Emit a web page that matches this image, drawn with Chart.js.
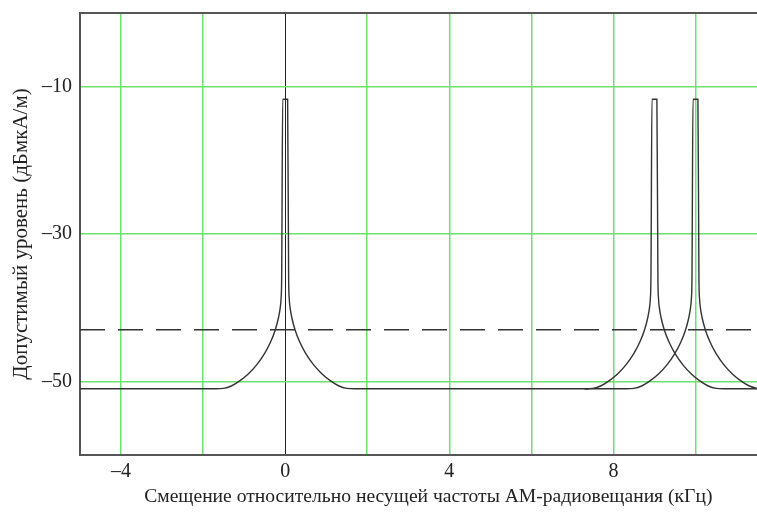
<!DOCTYPE html>
<html>
<head>
<meta charset="utf-8">
<script src="https://cdn.jsdelivr.net/npm/chart.js@4.4.0/dist/chart.umd.min.js"></script>
<style>
  html, body { margin: 0; padding: 0; background: #fff; }
  canvas { display: block; }
</style>
</head>
<body>
<canvas id="mask" width="757" height="518"></canvas>
<script>
// carrier positions (kHz) and the span each mask curve covers
var carriers = [0, 9, 10];
var spanFrom = [-5, 7.3, 7.3];
var spanTo = [7.4, 11.5, 11.5];

// one mask profile: offset from carrier (kHz) -> level (dBuA/m)
var maskOffsets = [-1.7, -1.5, -1.3, -1.1, -0.9, -0.7, -0.5, -0.35, -0.24, -0.16, -0.12, -0.1, -0.085, -0.06,
                   0.06, 0.085, 0.1, 0.12, 0.16, 0.24, 0.35, 0.5, 0.7, 0.9, 1.1, 1.3, 1.5, 1.7];
var maskLevels = [-51, -50.95, -50.6, -49.9, -49.0, -47.8, -46.2, -44.6, -43.0, -41.3, -40.0, -38.8, -36, -11.7,
                  -11.7, -36, -38.8, -40.0, -41.3, -43.0, -44.6, -46.2, -47.8, -49.0, -49.9, -50.6, -50.95, -51];
var baseLevel = -51;

// dashed limit
var limitX = [-5, 11.5];
var limitY = [-43, -43];

// ticks
var xGridTicks = [-4, -2, 0, 2, 4, 6, 8, 10];
var xLabelTicks = [-4, 0, 4, 8];
var yTicks = [-10, -30, -50];

var green = '#6ee06e';
var lineCol = '#333333';
var serif = "'Liberation Serif', 'DejaVu Serif', serif";

function fmt(v) {
  return v < 0 ? '\u2013' + Math.abs(v) : String(v);
}

var datasets = [];
for (var i = 0; i < carriers.length; i++) {
  var pts = [{x: spanFrom[i], y: baseLevel}];
  for (var j = 0; j < maskOffsets.length; j++) {
    pts.push({x: carriers[i] + maskOffsets[j], y: maskLevels[j]});
  }
  pts.push({x: spanTo[i], y: baseLevel});
  datasets.push({
    data: pts,
    borderColor: lineCol,
    borderWidth: 1.4,
    pointRadius: 0,
    fill: false,
    cubicInterpolationMode: 'monotone'
  });
}

datasets.push({
  data: limitX.map(function (x, k) { return {x: x, y: limitY[k]}; }),
  borderColor: lineCol,
  borderWidth: 1.4,
  borderDash: [25, 13],
  pointRadius: 0,
  fill: false
});

// top frame line
var topFrame = {
  id: 'topFrame',
  afterDraw: function (chart) {
    var a = chart.chartArea, ctx = chart.ctx;
    ctx.save();
    ctx.strokeStyle = '#555';
    ctx.lineWidth = 2;
    ctx.beginPath();
    ctx.moveTo(a.left, a.top);
    ctx.lineTo(a.right, a.top);
    ctx.stroke();
    ctx.restore();
  }
};

new Chart(document.getElementById('mask'), {
  type: 'line',
  data: { datasets: datasets },
  plugins: [topFrame],
  options: {
    responsive: false,
    animation: false,
    devicePixelRatio: 1,
    layout: { padding: { top: 13, right: 0, left: 0, bottom: 0 } },
    plugins: { legend: { display: false }, tooltip: { enabled: false } },
    scales: {
      x: {
        type: 'linear',
        min: -5,
        max: 11.5,
        afterBuildTicks: function (scale) {
          scale.ticks = xGridTicks.map(function (v) { return {value: v}; });
        },
        afterFit: function (scale) {
          scale.height = 63;
          scale.paddingLeft = 0;
          scale.paddingRight = 0;
        },
        grid: {
          drawTicks: false,
          color: function (c) { return c.tick && c.tick.value === 0 ? '#222' : green; },
          lineWidth: function (c) { return c.tick && c.tick.value === 0 ? 1 : 1.5; }
        },
        border: { color: '#555', width: 2 },
        ticks: {
          padding: 5,
          maxRotation: 0,
          autoSkip: false,
          color: '#222',
          font: { family: serif, size: 20 },
          callback: function (v) { return xLabelTicks.indexOf(v) >= 0 ? fmt(v) : ''; }
        },
        title: {
          display: true,
          text: '\u2002\u2002Смещение относительно несущей частоты АМ-радиовещания (кГц)',
          color: '#222',
          font: { family: serif, size: 19.6 },
          padding: { top: 0, bottom: 9 }
        }
      },
      y: {
        min: -60,
        max: 0,
        afterBuildTicks: function (scale) {
          scale.ticks = yTicks.map(function (v) { return {value: v}; });
        },
        afterFit: function (scale) {
          scale.width = 80;
          scale.paddingTop = 0;
          scale.paddingBottom = 0;
        },
        grid: { drawTicks: false, color: green, lineWidth: 1.5 },
        border: { color: '#555', width: 2 },
        ticks: {
          padding: 8,
          color: '#222',
          font: { family: serif, size: 20 },
          callback: function (v) { return fmt(v); }
        },
        title: {
          display: true,
          text: 'Допустимый уровень (дБмкА/м)',
          color: '#222',
          font: { family: serif, size: 21 },
          padding: { top: 9, bottom: 0 }
        }
      }
    }
  }
});
</script>
</body>
</html>
